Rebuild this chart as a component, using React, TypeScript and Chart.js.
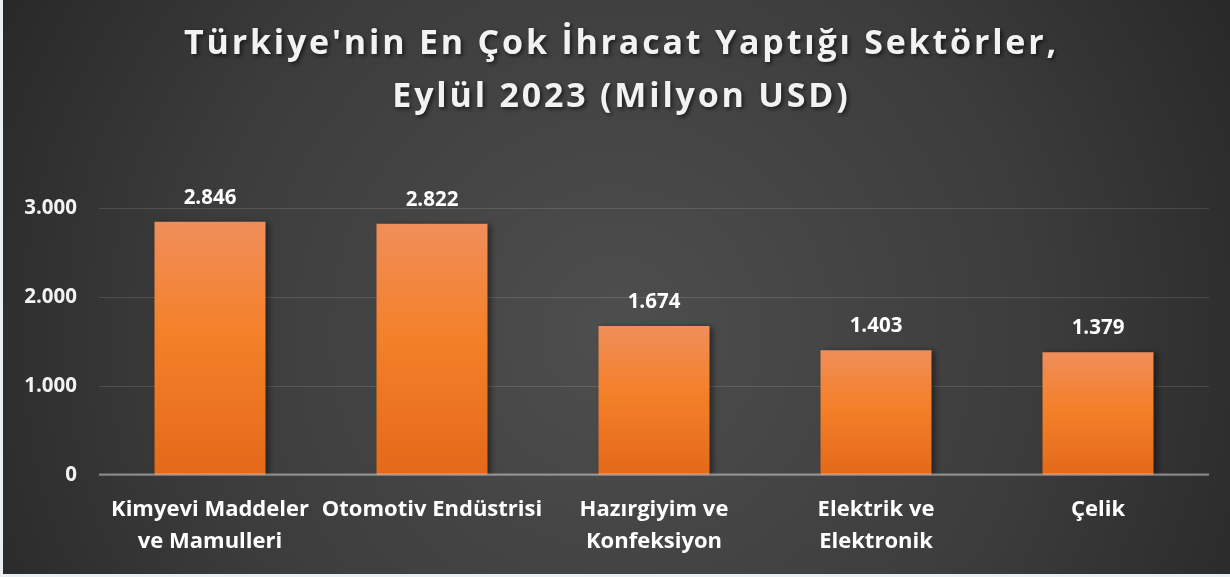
import React, { useEffect, useRef } from "react";
import { Chart, registerables } from "chart.js";

Chart.register(...registerables);

const titleLines = ["Türkiye'nin En Çok İhracat Yaptığı Sektörler,", "Eylül 2023 (Milyon USD)"];
const categories: string[][] = [
  ["Kimyevi Maddeler", "ve Mamulleri"],
  ["Otomotiv Endüstrisi"],
  ["Hazırgiyim ve", "Konfeksiyon"],
  ["Elektrik ve", "Elektronik"],
  ["Çelik"],
];
const exportValues = [2846, 2822, 1674, 1403, 1379];
const yMin = 0;
const yMax = 3000;
const yStep = 1000;

const FONT = "'Open Sans', sans-serif";
const fmt = (v: number) => String(Math.round(v)).replace(/\B(?=(\d{3})+(?!\d))/g, ".");

const bgPlugin = {
  id: "bgPlugin",
  beforeDraw(chart: any) {
    const { ctx, width, height } = chart;
    ctx.save();
    const g = ctx.createRadialGradient(width * 0.5, height * 0.58, 0, width * 0.5, height * 0.58, width * 0.62);
    g.addColorStop(0, "#4e4e4e");
    g.addColorStop(0.55, "#3c3c3c");
    g.addColorStop(1, "#242424");
    ctx.fillStyle = g;
    ctx.fillRect(0, 0, width, height);
    // title
    ctx.fillStyle = "#f2f2f2";
    ctx.font = `bold 34px ${FONT}`;
    ctx.textAlign = "center";
    ctx.textBaseline = "alphabetic";
    (ctx as any).letterSpacing = "2.8px";
    ctx.shadowColor = "rgba(0,0,0,0.6)";
    ctx.shadowBlur = 4;
    ctx.shadowOffsetX = 2;
    ctx.shadowOffsetY = 2;
    const cx = width / 2 + 5;
    ctx.fillText(titleLines[0], cx, 54);
    ctx.fillText(titleLines[1], cx, 107);
    ctx.restore();
  },
  beforeDatasetsDraw(chart: any) {
    const ctx = chart.ctx;
    ctx.save();
    ctx.shadowColor = "rgba(0,0,0,0.45)";
    ctx.shadowBlur = 6;
    ctx.shadowOffsetX = 3;
    ctx.shadowOffsetY = 1;
  },
  afterDatasetsDraw(chart: any) {
    const ctx = chart.ctx;
    ctx.restore();
    const { left, right, bottom } = chart.chartArea;
    ctx.save();
    ctx.strokeStyle = "rgba(255,255,255,0.42)";
    ctx.lineWidth = 2;
    ctx.beginPath();
    ctx.moveTo(left, bottom - 0.5);
    ctx.lineTo(right, bottom - 0.5);
    ctx.stroke();
    // data labels
    const meta = chart.getDatasetMeta(0);
    ctx.fillStyle = "#ffffff";
    ctx.font = `bold 20.5px ${FONT}`;
    ctx.textAlign = "center";
    ctx.textBaseline = "middle";
    meta.data.forEach((bar: any, i: number) => {
      ctx.fillText(fmt(exportValues[i]), bar.x, bar.y - 24);
    });
    ctx.restore();
  },
};

export default function App() {
  const ref = useRef<HTMLCanvasElement>(null);
  useEffect(() => {
    document.body.style.margin = "0";
    document.body.style.background = "#e9eff3";
    const chart = new Chart(ref.current as HTMLCanvasElement, {
      type: "bar",
      data: {
        labels: categories,
        datasets: [
          {
            data: exportValues,
            barPercentage: 0.5,
            categoryPercentage: 1,
            borderWidth: 0,
            backgroundColor: (c: any) => {
              const chart = c.chart;
              const area = chart.chartArea;
              if (!area || c.dataIndex === undefined) return "#f47f2c";
              const ys = chart.scales.y;
              const top = ys.getPixelForValue(exportValues[c.dataIndex]);
              const bottom = ys.getPixelForValue(0);
              const g = chart.ctx.createLinearGradient(0, top, 0, bottom);
              g.addColorStop(0, "#f08e5a");
              g.addColorStop(0.45, "#f48029");
              g.addColorStop(1, "#e4691a");
              return g;
            },
          },
        ],
      },
      options: {
        animation: false,
        responsive: true,
        maintainAspectRatio: false,
        layout: { padding: { top: 208, right: 21, left: 0, bottom: 0 } },
        plugins: { legend: { display: false }, tooltip: { enabled: false }, title: { display: false } },
        scales: {
          x: {
            grid: { display: false, drawTicks: false },
            border: { display: false },
            afterFit: (s: any) => {
              s.height = 99;
            },
            ticks: {
              color: "#ffffff",
              autoSkip: false,
              maxRotation: 0,
              padding: 18,
              font: { family: FONT, weight: "bold", size: 22, lineHeight: 1.48 },
            },
          },
          y: {
            min: yMin,
            max: yMax,
            grid: { color: "rgba(255,255,255,0.13)", drawTicks: false, lineWidth: 1 },
            border: { display: false },
            afterFit: (s: any) => {
              s.width = 96;
            },
            ticks: {
              stepSize: yStep,
              color: "#f2f2f2",
              padding: 22,
              font: { family: FONT, weight: "bold", size: 20.5 },
              callback: (v: any) => fmt(Number(v)),
            },
          },
        },
      },
      plugins: [bgPlugin],
    });
    return () => chart.destroy();
  }, []);
  return (
    <div style={{ position: "absolute", left: 3, top: 0, width: 1227, height: 574 }}>
      <canvas ref={ref} />
    </div>
  );
}
